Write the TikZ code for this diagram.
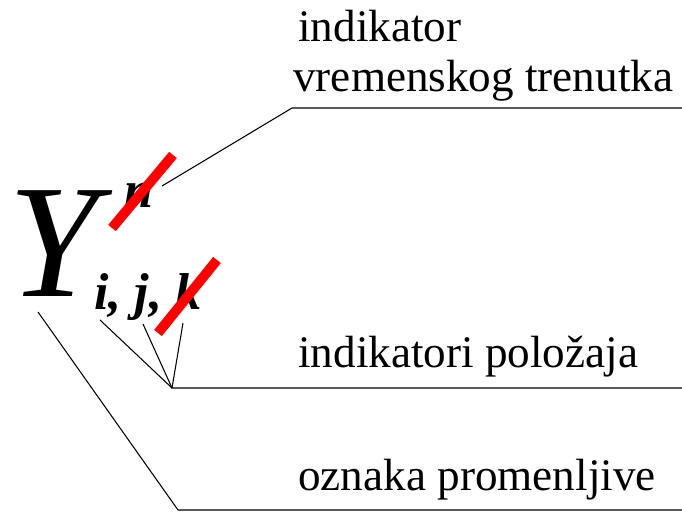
\documentclass[tikz,border=0pt]{standalone}
\usepackage{fontspec}
\setmainfont{Liberation Serif}
\begin{document}
\begin{tikzpicture}[x=0.02cm,y=-0.02cm,
  lbl/.style={anchor=base west,inner sep=0pt,font=\fontsize{25.7pt}{30pt}\selectfont},
  sym/.style={anchor=base west,inner sep=0pt},
  idx/.style={sym,font=\fontsize{29.5pt}{30pt}\selectfont\bfseries\itshape},
  leader/.style={draw=black,line width=0.6pt},
  strike/.style={draw=red,line width=5.6pt}]
\useasboundingbox (0,0) rectangle (682,519);

% the symbol Y with its indices
\node[sym,font=\fontsize{92pt}{92pt}\selectfont\itshape] (Y) at (8,297) {Y};
\node[idx] (n) at (124,208) {n};
\node[idx] (ijk) at (94,310) {i, j, k};

% labels
\node[lbl] (t1) at (298,42) {indikator};
\node[lbl] (t2) at (293,92) {vremenskog trenutka};
\node[lbl] (t3) at (298,368) {indikatori položaja};
\node[lbl] (t4) at (298,490) {oznaka promenljive};

% leader end points
\coordinate (nTip) at (162,186);
\coordinate (nBend) at (292,108);
\coordinate (nEnd) at (682,108);
\coordinate (iTip) at (100,320);
\coordinate (jTip) at (143,324);
\coordinate (kTip) at (183,323);
\coordinate (hub) at (172,388);
\coordinate (hubEnd) at (682,388);
\coordinate (YTip) at (38,312);
\coordinate (YBend) at (178,510);
\coordinate (YEnd) at (682,510);

% leaders
\draw[leader] (nTip) -- (nBend) -- (nEnd);
\draw[leader] (iTip) -- (hub);
\draw[leader] (jTip) -- (hub);
\draw[leader] (kTip) -- (hub) -- (hubEnd);
\draw[leader] (YTip) -- (YBend) -- (YEnd);

% red strike-outs
\coordinate (s1a) at (112,228);
\coordinate (s1b) at (173,155);
\coordinate (s2a) at (158,333);
\coordinate (s2b) at (217,260);
\draw[strike] (s1a) -- (s1b);
\draw[strike] (s2a) -- (s2b);
\end{tikzpicture}
\end{document}
